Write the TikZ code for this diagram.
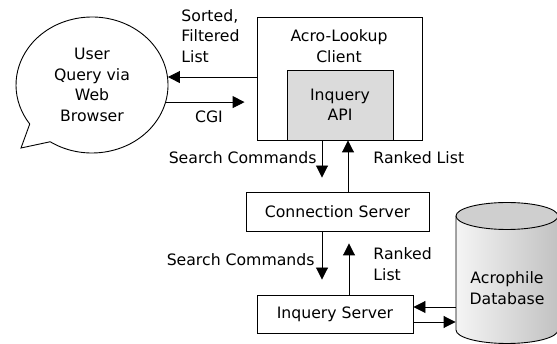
\documentclass[tikz,border=0pt]{standalone}
\usepackage{fontspec}
\setmainfont{DejaVu Sans}
\usetikzlibrary{calc,shapes.geometric,arrows.meta}

\begin{document}
\begin{tikzpicture}[x=1pt, y=1pt, line width=0.9pt,
    >={Triangle[length=12pt,width=12pt]},
    every node/.style={font=\fontsize{15.7}{20.5}\selectfont, inner sep=0pt},
    box/.style={draw, rectangle},
    lbl/.style={align=left}]
   \useasboundingbox (0,0) rectangle (557,-344);
   % speech bubble
   \draw (92,-85) ++(236.6:76 and 68) arc[start angle=236.6, end angle=575, x radius=76, y radius=68] -- (21,-148) -- cycle;
   \node[ellipse, minimum width=152pt, minimum height=136pt, align=center] (user) at (92,-85) {User\\Query via\\Web\\Browser};
   % client and servers
   \node[box, minimum width=165pt, minimum height=123pt] (client) at (339.5,-78.5) {};
   \node[align=center] (clientname) at (339,-46) {Acro-Lookup\\Client};
   \node[box, fill=black!14, minimum width=106pt, minimum height=70pt, align=center] (api) at (340,-105) {Inquery\\API};
   \node[box, minimum width=183pt, minimum height=39pt] (conn) at (337.5,-211.5) {Connection Server};
   \node[box, minimum width=156pt, minimum height=38pt] (iserver) at (335,-314) {Inquery Server};
   % database
   \draw[left color=black!4, right color=black!24] (456,-216) -- (456,-330) arc[start angle=180, end angle=360, x radius=51, y radius=13.5] -- (558,-216);
   \draw[fill=black!19] (507,-216) ellipse[x radius=51, y radius=13.5];
   \node[align=center, minimum width=102pt] (db) at (507,-288) {Acrophile\\Database};
   % arrows
   \draw[->] (user.6 -| client.west) -- (user.6);
   \coordinate (cgiend) at ($(user.-13 -| client.west)+(-12,0)$);
   \draw[->] (user.-13) -- (cgiend);
   \draw[->] ($(client.south)+(-17.5,0)$) -- ($(conn.north)+(-15.5,14)$);
   \draw[->] ($(conn.north)+(10.5,0)$) -- ($(client.south)+(8.5,0)$);
   \draw[->] ($(conn.south)+(-15.5,0)$) -- ($(iserver.north)+(-13,15)$);
   \draw[->] ($(iserver.north)+(14,0)$) -- ($(conn.south)+(11.5,-12)$);
   \coordinate (dbin) at ($(iserver.east)+(0,7)$);
   \coordinate (dbout) at ($(iserver.east)+(0,-8)$);
   \draw[<-] (dbin) -- (dbin -| db.west);
   \draw[->] (dbout) -- (dbout -| db.west);
   % labels
   \node[lbl, anchor=north west] (sorted) at (181,-9) {Sorted,\\Filtered\\List};
   \node (cgi) at (209,-117) {CGI};
   \node[anchor=east] (search1) at (317,-158) {Search Commands};
   \node[anchor=west] (ranked1) at (373,-158) {Ranked List};
   \node[anchor=east] (search2) at (315,-260) {Search Commands};
   \node[lbl, anchor=west] (ranked2) at (373,-264) {Ranked\\List};
\end{tikzpicture}
\end{document}
